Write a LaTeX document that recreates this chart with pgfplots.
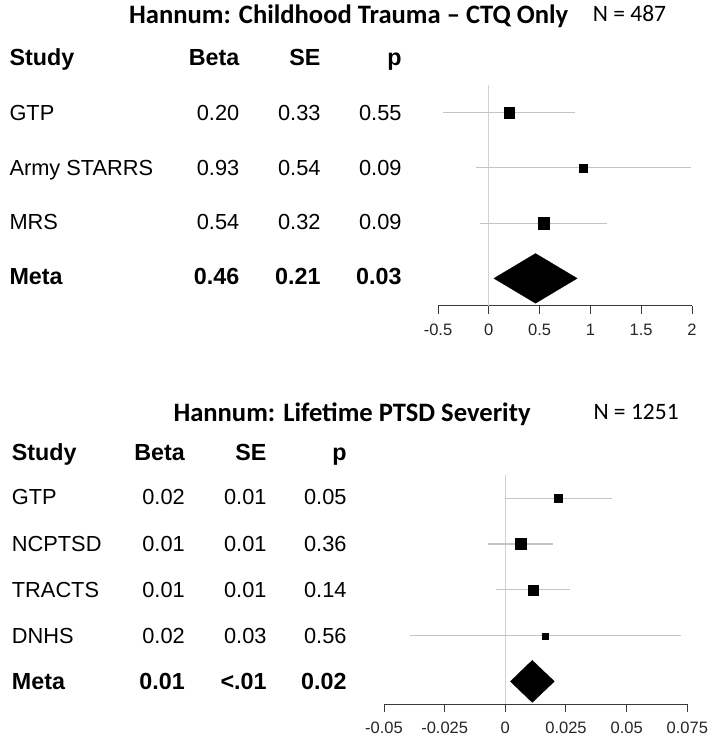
\documentclass[border=0pt]{standalone}
\usepackage{fontspec}
\setmainfont{Liberation Sans}
\newfontfamily\calib{Carlito}
\usepackage{pgfplots}
\pgfplotsset{compat=1.18}
\usepackage{pgfplotstable}

\definecolor{cigrey}{HTML}{C4C4C4}
\definecolor{zerogrey}{HTML}{D2D2D2}
\definecolor{axgrey}{HTML}{3A3A3A}

\newcommand\reg{\fontsize{21.8}{24}\selectfont}
\newcommand\bld{\fontsize{23.3}{26}\selectfont\bfseries}
\newcommand\ttl{\calib\fontsize{26.6}{30}\selectfont\bfseries}
\newcommand\nfont{\calib\fontsize{23.5}{27}\selectfont}

% beta, row, 95% CI half width, box half size (pt)
\pgfplotstableread{
beta row ci size
0.20 -1 0.647 5.35
0.93 -2 1.060 4.0
0.54 -3 0.627 5.65
}\ctqtab
\pgfplotstableread{
beta row ci size
0.0218 -1 0.0220 4.15
0.0063 -2 0.0135 5.5
0.0114 -3 0.0152 5.15
0.0164 -4 0.0558 3.0
}\ptsdtab

\pgfplotsset{
  forest/.style={
    scale only axis, anchor=south west, clip=false,
    axis x line*=bottom, axis y line=none,
    x axis line style={-, axgrey, line width=1pt},
    xtick align=outside, major tick length=8pt,
    tick style={axgrey, line width=1pt},
    ytick=\empty, scaled x ticks=false,
    xticklabel style={font=\fontsize{16.5}{18}\selectfont, text=black!85, yshift=-6.5pt},
  },
  ciline/.style={draw=none, mark=none,
    error bars/.cd, x dir=both, x explicit, error mark=none,
    error bar style={cigrey, line width=1.1pt}},
  boxes/.style={scatter, only marks, mark=square*,
    scatter/use mapped color={draw=black, fill=black},
    mark options={line width=0.2pt},
    visualization depends on={\thisrow{size} \as \boxsize},
    scatter/@pre marker code/.append style={/tikz/mark size=\boxsize}},
}

\begin{document}
\begin{tikzpicture}[x=1pt, y=1pt]
\useasboundingbox (0,0) rectangle (714,745);

% ---------- top panel ----------
\node[anchor=base west, inner sep=0] at (129,721) {\ttl Hannum: Childhood Trauma – CTQ Only};
\node[anchor=base west, inner sep=0] at (592.7,723.3) {\nfont N = 487};

\node[anchor=base west, inner sep=0] at (9.3,679) {\bld Study};
\node[anchor=base east, inner sep=0] at (239.5,679) {\bld Beta};
\node[anchor=base east, inner sep=0] at (320.7,679) {\bld SE};
\node[anchor=base east, inner sep=0] at (401.7,679) {\bld p};

\foreach \name/\b/\s/\p/\yy in {GTP/0.20/0.33/0.55/624.3, Army STARRS/0.93/0.54/0.09/569.3, MRS/0.54/0.32/0.09/515} {
  \node[anchor=base west, inner sep=0] at (9.3,\yy) {\reg \name};
  \node[anchor=base east, inner sep=0] at (239.5,\yy) {\reg \b};
  \node[anchor=base east, inner sep=0] at (320.7,\yy) {\reg \s};
  \node[anchor=base east, inner sep=0] at (401.7,\yy) {\reg \p};
}
\node[anchor=base west, inner sep=0] at (9.3,460) {\bld Meta};
\node[anchor=base east, inner sep=0] at (239.5,460) {\bld 0.46};
\node[anchor=base east, inner sep=0] at (320.7,460) {\bld 0.21};
\node[anchor=base east, inner sep=0] at (401.7,460) {\bld 0.03};

\begin{axis}[forest, at={(438pt,439pt)}, width=254pt, height=221pt,
  xmin=-0.5, xmax=2, ymin=-4.5, ymax=-0.5,
  xtick={-0.5,0,0.5,1,1.5,2}, xticklabels={-0.5,0,0.5,1,1.5,2}]
\addplot[zerogrey, line width=1pt] coordinates {(0,-0.5) (0,-4.5)};
\addplot[ciline] table[x=beta, y=row, x error=ci] {\ctqtab};
\addplot[boxes] table[x=beta, y=row] {\ctqtab};
\addplot[fill=black, draw=black, line width=0.3pt] coordinates {(0.05,-4) (0.46,-3.55) (0.87,-4) (0.46,-4.45)} -- cycle;
\end{axis}

% ---------- bottom panel ----------
\node[anchor=base west, inner sep=0] at (173.3,323.3) {\ttl Hannum: Lifetime PTSD Severity};
\node[anchor=base west, inner sep=0] at (593.3,325) {\nfont N = 1251};

\node[anchor=base west, inner sep=0] at (11.7,284.3) {\bld Study};
\node[anchor=base east, inner sep=0] at (185,284.3) {\bld Beta};
\node[anchor=base east, inner sep=0] at (266.7,284.3) {\bld SE};
\node[anchor=base east, inner sep=0] at (346.7,284.3) {\bld p};

\foreach \name/\b/\s/\p/\yy in {GTP/0.02/0.01/0.05/240, NCPTSD/0.01/0.01/0.36/193.3, TRACTS/0.01/0.01/0.14/147.7, DNHS/0.02/0.03/0.56/101.7} {
  \node[anchor=base west, inner sep=0] at (11.7,\yy) {\reg \name};
  \node[anchor=base east, inner sep=0] at (185,\yy) {\reg \b};
  \node[anchor=base east, inner sep=0] at (266.7,\yy) {\reg \s};
  \node[anchor=base east, inner sep=0] at (346.7,\yy) {\reg \p};
}
\node[anchor=base west, inner sep=0] at (11.7,56) {\bld Meta};
\node[anchor=base east, inner sep=0] at (185,56) {\bld 0.01};
\node[anchor=base east, inner sep=0] at (266.7,56) {\bld <.01};
\node[anchor=base east, inner sep=0] at (346.7,56) {\bld 0.02};

\begin{axis}[forest, at={(384pt,40.7pt)}, width=303.3pt, height=229pt,
  xmin=-0.05, xmax=0.075, ymin=-5.5, ymax=-0.5,
  xtick={-0.05,-0.025,0,0.025,0.05,0.075},
  xticklabels={-0.05,-0.025,0,0.025,0.05,0.075}]
\addplot[zerogrey, line width=1pt] coordinates {(0,-0.5) (0,-5.5)};
\addplot[ciline] table[x=beta, y=row, x error=ci] {\ptsdtab};
\addplot[boxes] table[x=beta, y=row] {\ptsdtab};
\addplot[fill=black, draw=black, line width=0.3pt] coordinates {(0.0021,-5) (0.0111,-4.54) (0.0202,-5) (0.0111,-5.46)} -- cycle;
\end{axis}
\end{tikzpicture}
\end{document}
